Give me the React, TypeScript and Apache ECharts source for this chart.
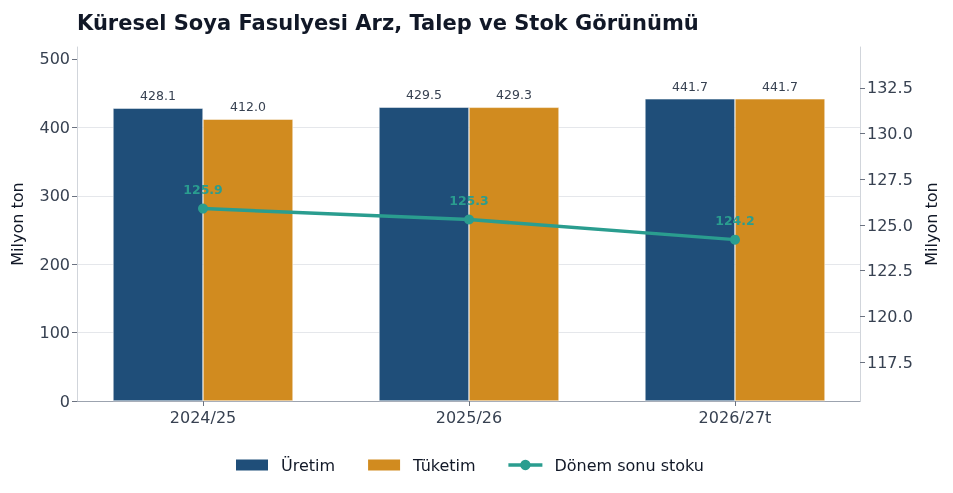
import React, { useEffect, useRef } from "react";
import * as echarts from "echarts";

const categories = ["2024/25", "2025/26", "2026/27t"];
const uretim = [428.1, 429.5, 441.7];
const tuketim = [412.0, 429.3, 441.7];
const stok = [125.9, 125.3, 124.2];
const leftTicks = [0, 100, 200, 300, 400, 500];
const rightTicks = [117.5, 120.0, 122.5, 125.0, 127.5, 130.0, 132.5];

const FONT = "'DejaVu Sans', sans-serif";

export default function App() {
  const ref = useRef<HTMLDivElement>(null);
  useEffect(() => {
    if (!ref.current) return;
    const chart = echarts.init(ref.current, null, { renderer: "svg" });
    const idx = categories.map((_, i) => i);
    chart.setOption({
      animation: false,
      textStyle: { fontFamily: FONT },
      title: {
        text: "Küresel Soya Fasulyesi Arz, Talep ve Stok Görünümü",
        left: 72,
        top: 7,
        textStyle: { fontFamily: FONT, fontSize: 21, fontWeight: "bold", color: "#111827" },
      },
      legend: {
        bottom: 15,
        left: 229,
        itemWidth: 34,
        itemHeight: 13,
        itemGap: 31,
        lineStyle: { width: 3.5 },
        textStyle: { fontFamily: FONT, fontSize: 16, color: "#111827", padding: [0, 0, 0, 7] },
        data: [
          { name: "Üretim", icon: "rect" },
          { name: "Tüketim", icon: "rect" },
          { name: "Dönem sonu stoku" },
        ],
      },
      grid: { left: 77, right: 93, top: 47, bottom: 92 },
      xAxis: {
        type: "value",
        min: -0.4737,
        max: 2.47,
        axisLine: { show: true, onZero: false, lineStyle: { color: "#9ca3af", width: 1 } },
        axisTick: { show: true, customValues: idx, length: 5, lineStyle: { color: "#6b7280" } },
        axisLabel: {
          customValues: idx,
          formatter: (v: number) => categories[Math.round(v)] ?? "",
          fontFamily: FONT,
          fontSize: 16,
          color: "#374151",
          margin: 8,
        },
        splitLine: { show: false },
      },
      yAxis: [
        {
          type: "value",
          min: 0,
          max: 517.5,
          interval: 100,
          name: "Milyon ton",
          nameLocation: "middle",
          nameGap: 52,
          nameRotate: 90,
          nameTextStyle: { fontFamily: FONT, fontSize: 16, color: "#111827" },
          axisLine: { show: true, onZero: false, lineStyle: { color: "#d1d5db" } },
          axisTick: { show: true, customValues: leftTicks, length: 5, lineStyle: { color: "#6b7280" } },
          axisLabel: {
            customValues: leftTicks,
            fontFamily: FONT,
            fontSize: 16,
            color: "#374151",
            margin: 7,
          },
          splitLine: { show: true, showMinLine: false, showMaxLine: false, lineStyle: { color: "#e5e7eb", width: 1 } },
        },
        {
          type: "value",
          min: 115.37,
          max: 134.74,
          name: "Milyon ton",
          nameLocation: "middle",
          nameGap: 62,
          nameRotate: 90,
          nameTextStyle: { fontFamily: FONT, fontSize: 16, color: "#111827" },
          axisLine: { show: true, onZero: false, lineStyle: { color: "#d1d5db" } },
          axisTick: { show: true, customValues: rightTicks, length: 5, lineStyle: { color: "#6b7280" } },
          axisLabel: {
            customValues: rightTicks,
            formatter: (v: number) => v.toFixed(1),
            fontFamily: FONT,
            fontSize: 16,
            color: "#374151",
            margin: 7,
          },
          splitLine: { show: false },
        },
      ],
      series: [
        {
          name: "Üretim",
          type: "bar",
          barWidth: 90,
          barGap: "0%",
          itemStyle: { color: "#1f4e79", borderColor: "#ffffff", borderWidth: 0.5 },
          label: { show: true, position: "top", distance: 6, fontFamily: FONT, fontSize: 12.5, color: "#374151", formatter: (p: any) => p.value[1].toFixed(1) },
          data: uretim.map((v, i) => [i, v]),
        },
        {
          name: "Tüketim",
          type: "bar",
          barWidth: 90,
          barGap: "0%",
          itemStyle: { color: "#d18b1f", borderColor: "#ffffff", borderWidth: 0.5 },
          label: { show: true, position: "top", distance: 6, fontFamily: FONT, fontSize: 12.5, color: "#374151", formatter: (p: any) => p.value[1].toFixed(1) },
          data: tuketim.map((v, i) => [i, v]),
        },
        {
          name: "Dönem sonu stoku",
          type: "line",
          yAxisIndex: 1,
          z: 5,
          symbol: "circle",
          symbolSize: 10,
          lineStyle: { color: "#2a9d8f", width: 3.5 },
          itemStyle: { color: "#2a9d8f" },
          label: { show: true, position: "top", distance: 8, fontFamily: FONT, fontSize: 12.5, fontWeight: "bold", color: "#2a9d8f", formatter: (p: any) => p.value[1].toFixed(1) },
          data: stok.map((v, i) => [i, v]),
        },
      ],
    });
    return () => chart.dispose();
  }, []);
  return <div ref={ref} style={{ position: "fixed", left: 0, top: 0, width: 953, height: 493 }} />;
}
